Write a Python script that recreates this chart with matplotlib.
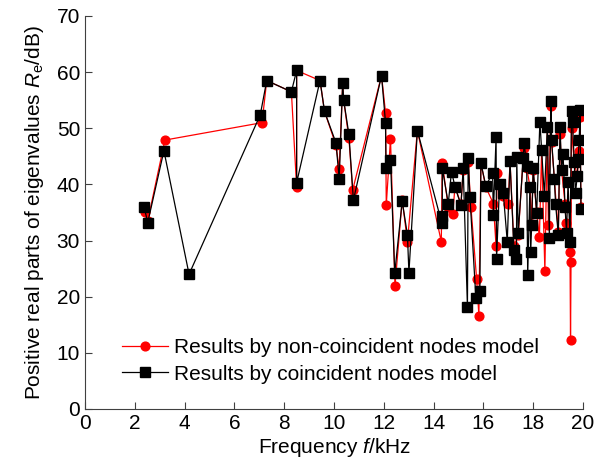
import matplotlib
matplotlib.use('Agg')
import matplotlib.pyplot as plt

plt.rcParams['font.family'] = ['Liberation Sans', 'DejaVu Sans']
plt.rcParams['mathtext.fontset'] = 'custom'
plt.rcParams['mathtext.rm'] = 'Liberation Sans'
plt.rcParams['mathtext.it'] = 'Liberation Sans:style=italic'

# non-coincident nodes model (red)
freq_nc = [2.41, 2.52, 3.21, 7.11, 7.30, 8.29, 8.50, 8.50, 9.44, 9.62, 10.08, 10.21,
           10.35, 10.39, 10.60, 10.75, 11.91, 12.07, 12.10, 12.27, 12.45, 12.74, 12.95,
           13.35, 14.31, 14.35, 14.59, 14.77, 14.86, 15.10, 15.19, 15.39, 15.50, 15.73,
           15.82, 15.90, 16.10, 16.40, 16.51, 16.55, 16.80, 17.00, 17.07, 17.23, 17.40,
           17.60, 17.64, 17.74, 17.87, 17.94, 18.00, 18.14, 18.25, 18.34, 18.47, 18.57,
           18.61, 18.71, 18.74, 18.85, 19.01, 19.08, 19.14, 19.28, 19.32, 19.48, 19.50,
           19.52, 19.54, 19.65, 19.77, 19.85, 19.88, 19.92]
re_nc = [35.1, 33.5, 47.9, 51.0, 58.5, 56.5, 39.5, 60.3, 58.5, 53.0, 47.0, 42.7,
         58.1, 55.0, 48.2, 39.0, 59.4, 52.8, 36.3, 48.1, 21.9, 37.3, 29.8,
         49.6, 29.8, 43.8, 36.0, 34.8, 39.6, 36.5, 42.5, 44.0, 36.0, 23.1,
         16.6, 43.8, 39.5, 36.6, 29.0, 42.0, 38.0, 36.6, 44.1, 29.0, 31.0,
         44.7, 46.5, 43.0, 39.6, 33.0, 42.5, 35.0, 30.6, 46.1, 24.6, 50.3,
         32.8, 54.0, 47.5, 41.0, 31.5, 49.0, 42.6, 36.5, 33.1, 28.0, 12.3,
         26.1, 50.0, 44.0, 41.5, 46.0, 52.0, 36.0]

# coincident nodes model (black)
freq_c = [2.38, 2.52, 3.17, 4.18, 7.04, 7.30, 8.29, 8.50, 8.50, 9.44, 9.62, 10.08,
          10.21, 10.35, 10.39, 10.60, 10.78, 11.91, 12.07, 12.09, 12.27, 12.44, 12.74,
          12.95, 13.01, 13.35, 14.33, 14.35, 14.35, 14.59, 14.72, 14.86, 15.10, 15.19,
          15.36, 15.39, 15.46, 15.70, 15.86, 15.90, 16.10, 16.37, 16.40, 16.51, 16.53,
          16.65, 16.80, 16.96, 17.07, 17.23, 17.33, 17.34, 17.40, 17.60, 17.64, 17.74,
          17.78, 17.87, 17.90, 17.94, 18.00, 18.14, 18.27, 18.34, 18.45, 18.57, 18.65,
          18.71, 18.74, 18.85, 18.90, 19.01, 19.08, 19.14, 19.20, 19.28, 19.34, 19.40,
          19.48, 19.54, 19.58, 19.65, 19.70, 19.77, 19.80, 19.85, 19.88, 19.92]
re_c = [35.9, 33.2, 46.0, 24.0, 52.4, 58.5, 56.5, 60.3, 40.3, 58.5, 53.0, 47.4,
        41.0, 58.1, 55.0, 48.9, 37.2, 59.4, 51.0, 43.0, 44.4, 24.2, 37.0,
        31.0, 24.3, 49.6, 33.1, 34.3, 42.9, 36.6, 42.3, 39.6, 36.3, 42.9,
        18.2, 44.7, 37.8, 19.7, 21.1, 43.8, 39.7, 42.1, 34.6, 48.4, 26.8,
        40.0, 38.4, 29.8, 44.1, 28.3, 26.7, 44.9, 31.3, 44.7, 47.3, 43.2,
        23.9, 39.6, 28.0, 32.8, 42.9, 34.9, 51.2, 46.1, 38.0, 50.3, 30.4,
        54.9, 47.9, 41.0, 36.5, 31.0, 50.3, 42.6, 45.5, 36.0, 31.3, 40.5,
        29.8, 53.0, 51.2, 44.0, 38.5, 41.5, 44.5, 47.9, 53.3, 35.6]

fig = plt.figure(figsize=(6.01, 4.61), dpi=100)
ax = fig.add_axes([0.1414, 0.1128, 0.8286, 0.8525])

ax.plot(freq_nc, re_nc, '-o', color='red', lw=0.9, markersize=6.3,
        label='Results by non-coincident nodes model')
ax.plot(freq_c, re_c, '-s', color='black', lw=0.9, markersize=7,
        label='Results by coincident nodes model')

ax.set_xlim(0, 20)
ax.set_ylim(0, 70)
ax.set_xticks(range(0, 21, 2))
ax.set_yticks(range(0, 71, 10))
ax.spines['top'].set_visible(False)
ax.spines['right'].set_visible(False)
for s in ['left', 'bottom']:
    ax.spines[s].set_color('#404040')
ax.tick_params(direction='in', length=5, labelsize=15, colors='#404040',
               labelcolor='black')

ax.set_xlabel('Frequency $f$/kHz', fontsize=15, labelpad=2)
ax.set_ylabel('Positive real parts of eigenvalues $R_{\\rm e}$/dB)', fontsize=15, labelpad=8)

ax.legend(loc='upper left', bbox_to_anchor=(0.075, 0.18), frameon=False,
          fontsize=15, handlelength=2.2, handletextpad=0.3, labelspacing=0.35,
          borderpad=0, borderaxespad=0)

fig.savefig('out.png', dpi=100)
